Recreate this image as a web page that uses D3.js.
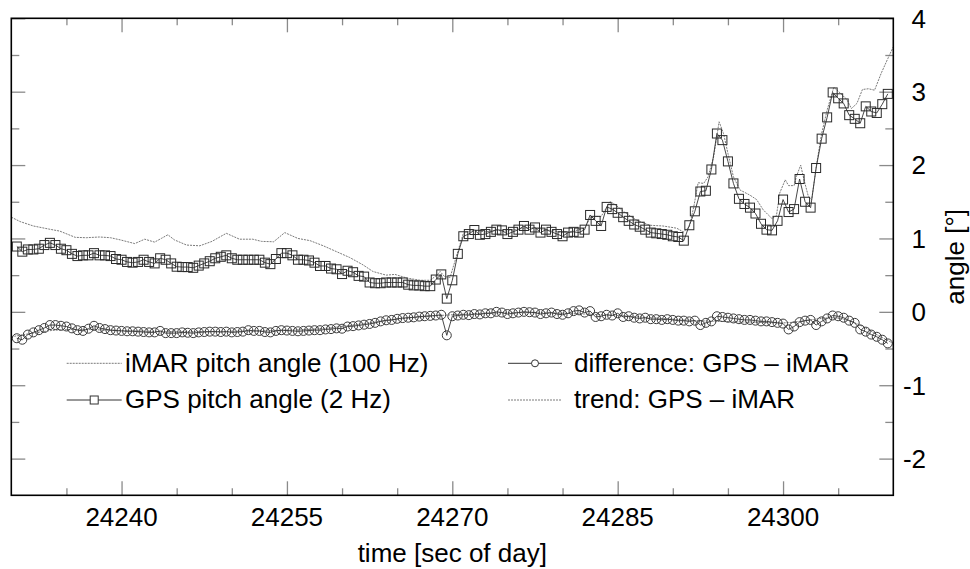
<!DOCTYPE html>
<html><head><meta charset="utf-8">
<script src="https://cdn.jsdelivr.net/npm/d3@7"></script>
<style>
body{margin:0;background:#fff}
svg{display:block}
text{font-family:"Liberation Sans",Arial,sans-serif;fill:#000}
</style>
</head><body>
<svg id="chart" width="970" height="569"></svg>
<script>
// ---------------- data ----------------
const gpsStart = 24230.5, gpsStep = 0.5;
const gpsPitch = [
 0.89,0.82,0.85,0.85,0.86,0.91,0.94,0.91,0.86,0.84,
 0.79,0.76,0.77,0.77,0.80,0.77,0.77,0.76,0.72,0.71,
 0.68,0.67,0.68,0.71,0.68,0.66,0.73,0.71,0.66,0.615,
 0.61,0.61,0.60,0.63,0.66,0.69,0.73,0.75,0.77,0.73,
 0.71,0.71,0.71,0.71,0.71,0.67,0.65,0.72,0.80,0.80,
 0.77,0.71,0.71,0.70,0.67,0.625,0.625,0.59,0.58,0.515,
 0.56,0.54,0.49,0.48,0.40,0.39,0.39,0.40,0.40,0.40,
 0.40,0.37,0.36,0.36,0.35,0.35,0.44,0.51,0.18,0.43,
 0.79,1.03,1.06,1.115,1.05,1.06,1.09,1.12,1.11,1.06,
 1.09,1.12,1.17,1.12,1.15,1.08,1.12,1.09,1.06,1.03,
 1.08,1.09,1.08,1.12,1.32,1.24,1.17,1.43,1.40,1.35,
 1.29,1.24,1.19,1.16,1.12,1.08,1.07,1.06,1.05,1.03,
 1.02,0.97,1.18,1.37,1.64,1.65,1.94,2.43,2.34,2.05,
 1.75,1.54,1.47,1.42,1.34,1.20,1.12,1.11,1.24,1.53,
 1.36,1.40,1.81,1.50,1.42,1.96,2.36,2.65,2.99,2.91,
 2.84,2.68,2.63,2.57,2.80,2.73,2.71,2.83,2.97
];
const diffStart = 24230.5, diffStep = 0.5;
const diffValues = [
 -0.36,-0.38,-0.31,-0.28,-0.25,-0.22,-0.18,-0.18,-0.19,-0.20,
 -0.225,-0.25,-0.26,-0.23,-0.19,-0.22,-0.235,-0.25,-0.255,-0.26,
 -0.265,-0.265,-0.27,-0.275,-0.28,-0.28,-0.26,-0.29,-0.29,-0.29,
 -0.28,-0.285,-0.29,-0.28,-0.275,-0.27,-0.27,-0.275,-0.27,-0.28,
 -0.275,-0.27,-0.25,-0.26,-0.26,-0.275,-0.28,-0.26,-0.25,-0.255,
 -0.26,-0.265,-0.26,-0.255,-0.25,-0.25,-0.24,-0.235,-0.225,-0.23,
 -0.20,-0.195,-0.185,-0.175,-0.165,-0.15,-0.13,-0.115,-0.11,-0.095,
 -0.085,-0.08,-0.075,-0.065,-0.06,-0.055,-0.05,-0.04,-0.32,-0.06,
 -0.05,-0.04,-0.045,-0.03,-0.035,-0.02,-0.02,0.0,-0.01,-0.03,
 -0.02,-0.01,0.0,-0.005,-0.01,-0.03,-0.02,-0.01,-0.03,-0.04,
 -0.02,0.01,0.02,-0.01,0.01,-0.07,-0.06,-0.04,-0.05,-0.02,
 -0.07,-0.06,-0.08,-0.09,-0.08,-0.10,-0.10,-0.11,-0.10,-0.11,
 -0.12,-0.12,-0.13,-0.12,-0.18,-0.15,-0.13,-0.06,-0.07,-0.08,
 -0.09,-0.10,-0.11,-0.11,-0.12,-0.13,-0.13,-0.14,-0.15,-0.16,
 -0.24,-0.20,-0.14,-0.12,-0.11,-0.18,-0.13,-0.09,-0.05,-0.06,
 -0.08,-0.12,-0.15,-0.24,-0.27,-0.31,-0.34,-0.38,-0.43
];
const imarTime = [
 24230.0,24230.8,24232.0,24233.5,24234.4,24235.8,24236.8,24238.0,24239.0,24239.9,
 24241.2,24242.1,24243.0,24243.6,24244.2,24244.8,24245.9,24247.1,24248.2,24249.5,
 24250.7,24251.9,24252.7,24253.8,24254.8,24256.0,24257.1,24258.3,24259.5,24260.7,
 24261.9,24262.8,24264.0,24264.8,24265.9,24267.1,24268.0,24268.6,24268.9,24269.3,
 24269.8,24270.5,24271.0,24271.9,24273.0,24274.0,24275.0,24276.0,24277.0,24278.0,
 24279.0,24280.0,24281.0,24282.0,24282.5,24283.0,24283.5,24284.3,24284.7,24285.5,
 24286.7,24287.9,24289.1,24290.35,24290.95,24291.5,24291.9,24292.3,24292.8,24293.2,
 24293.7,24294.2,24294.6,24295.0,24295.5,24296.1,24297.0,24297.6,24298.2,24299.0,
 24299.4,24299.7,24300.2,24300.5,24301.0,24301.2,24301.6,24301.9,24302.3,24302.6,
 24303.05,24303.5,24304.0,24304.6,24305.2,24305.8,24306.2,24306.7,24307.2,24307.75,
 24308.3,24308.9,24309.5,24310.0
];
const imarPitch = [
 1.29,1.23,1.17,1.125,1.10,1.015,1.01,1.02,1.01,0.98,
 0.93,0.99,0.95,1.00,1.05,0.98,0.91,0.90,0.96,1.07,
 0.99,0.99,0.96,0.955,1.08,1.00,0.97,0.90,0.82,0.74,
 0.64,0.55,0.50,0.51,0.46,0.43,0.43,0.50,0.55,0.48,
 0.47,0.82,1.07,1.115,1.09,1.11,1.10,1.13,1.15,1.13,
 1.11,1.08,1.10,1.14,1.28,1.30,1.30,1.50,1.47,1.37,
 1.25,1.18,1.17,1.14,1.09,1.16,1.43,1.76,1.75,1.84,
 2.11,2.59,2.43,2.16,1.84,1.66,1.59,1.53,1.39,1.27,
 1.31,1.62,1.80,1.72,1.72,1.84,2.00,1.80,1.57,1.53,
 2.02,2.43,2.75,3.06,2.98,2.89,2.77,2.84,3.03,3.04,
 3.02,3.25,3.45,3.61
];
const trendTime = [24230,24232,24234,24236,24240,24245,24250,24255,24258,24261,24264,24267,24270,24273,24276,24279,24282,24285,24288,24291,24294,24297,24300,24302,24303.5,24304.5,24305.5,24306.5,24307.5,24308.5,24309.5,24310];
const trendValues = [-0.34,-0.29,-0.25,-0.24,-0.255,-0.27,-0.265,-0.25,-0.23,-0.18,-0.12,-0.07,-0.04,-0.02,-0.01,-0.015,-0.03,-0.05,-0.08,-0.11,-0.13,-0.14,-0.15,-0.12,-0.09,-0.08,-0.10,-0.15,-0.22,-0.31,-0.39,-0.43];

const xMajorTicks = [24240,24255,24270,24285,24300];
const xMinorTicks = [24235,24245,24250,24260,24265,24275,24280,24290,24295,24305];
const yMajorTicks = [-2,-1,0,1,2,3,4];
const yMinorTicks = [-1.5,-0.5,0.5,1.5,2.5,3.5];
const xTitle = "time [sec of day]";
const yTitle = "angle [°]";
const legendLabels = ["iMAR pitch angle (100 Hz)","GPS pitch angle (2 Hz)","difference: GPS \u2013 iMAR","trend: GPS \u2013 iMAR"];

// ---------------- layout ----------------
const L = 11.3, R = 893.3, T = 18.3, B = 495.3;
const FS = 26;
const svg = d3.select("#chart");
const x = d3.scaleLinear().domain([24230,24310]).range([L,R]);
const y = d3.scaleLinear().domain([-2.5,4]).range([B,T]);

const gps = gpsPitch.map((v,i)=>({t:gpsStart+i*gpsStep, v}));
const diff = diffValues.map((v,i)=>({t:diffStart+i*diffStep, v}));
const imar = imarTime.map((t,i)=>({t, v:imarPitch[i]}));
const trend = trendTime.map((t,i)=>({t, v:trendValues[i]}));

svg.append("defs").append("clipPath").attr("id","clip")
  .append("rect").attr("x",L).attr("y",T).attr("width",R-L).attr("height",B-T);

// ticks via d3 axes
const tickColor = "#8a8a8a";
function styleAxis(g){ g.select(".domain").remove(); g.selectAll("line").attr("stroke",tickColor).attr("stroke-width",1.3); g.selectAll("text").remove(); }
svg.append("g").attr("transform",`translate(0,${B})`).call(d3.axisBottom(x).tickValues(xMajorTicks).tickSize(-14)).call(styleAxis);
svg.append("g").attr("transform",`translate(0,${B})`).call(d3.axisBottom(x).tickValues(xMinorTicks).tickSize(-7)).call(styleAxis);
svg.append("g").attr("transform",`translate(0,${T})`).call(d3.axisTop(x).tickValues(xMajorTicks).tickSize(-14)).call(styleAxis);
svg.append("g").attr("transform",`translate(0,${T})`).call(d3.axisTop(x).tickValues(xMinorTicks).tickSize(-7)).call(styleAxis);
svg.append("g").attr("transform",`translate(${L},0)`).call(d3.axisLeft(y).tickValues(yMajorTicks).tickSize(-14)).call(styleAxis);
svg.append("g").attr("transform",`translate(${L},0)`).call(d3.axisLeft(y).tickValues(yMinorTicks).tickSize(-8)).call(styleAxis);
svg.append("g").attr("transform",`translate(${R},0)`).call(d3.axisRight(y).tickValues(yMajorTicks).tickSize(-14)).call(styleAxis);
svg.append("g").attr("transform",`translate(${R},0)`).call(d3.axisRight(y).tickValues(yMinorTicks).tickSize(-8)).call(styleAxis);

// labels
svg.selectAll(".xl").data(xMajorTicks).join("text").attr("class","xl")
  .attr("x",d=>x(d)).attr("y",526).attr("text-anchor","middle").attr("font-size",FS).text(d=>d);
svg.selectAll(".yl").data(yMajorTicks).join("text").attr("class","yl")
  .attr("x",926).attr("y",d=>y(d)+9.3).attr("text-anchor","end").attr("font-size",FS).text(d=>d);
svg.append("text").attr("x",(L+R)/2).attr("y",562).attr("text-anchor","middle").attr("font-size",FS).text(xTitle);
svg.append("text").attr("transform",`translate(964,${(T+B)/2}) rotate(-90)`).attr("text-anchor","middle").attr("font-size",FS).text(yTitle);

// data
const plot = svg.append("g").attr("clip-path","url(#clip)");
const line = d3.line().x(d=>x(d.t)).y(d=>y(d.v));
const dotted = {stroke:"#7a7a7a", width:1, dash:"2,1"};

plot.append("path").datum(imar).attr("d",line).attr("fill","none")
  .attr("stroke",dotted.stroke).attr("stroke-width",dotted.width).attr("stroke-dasharray",dotted.dash);
plot.append("path").datum(trend).attr("d",d3.line().x(d=>x(d.t)).y(d=>y(d.v)).curve(d3.curveMonotoneX)).attr("fill","none")
  .attr("stroke",dotted.stroke).attr("stroke-width",dotted.width).attr("stroke-dasharray",dotted.dash);

plot.append("path").datum(gps).attr("d",line).attr("fill","none").attr("stroke","#333").attr("stroke-width",0.9);
const SQ = 9;
plot.selectAll(".sq").data(gps).join("rect").attr("class","sq")
  .attr("x",d=>x(d.t)-SQ/2).attr("y",d=>y(d.v)-SQ/2).attr("width",SQ).attr("height",SQ)
  .attr("fill","none").attr("stroke","#2a2a2a").attr("stroke-width",1);

plot.append("path").datum(diff).attr("d",line).attr("fill","none").attr("stroke","#333").attr("stroke-width",0.9);
plot.selectAll(".ci").data(diff).join("circle").attr("class","ci")
  .attr("cx",d=>x(d.t)).attr("cy",d=>y(d.v)).attr("r",4.5)
  .attr("fill","none").attr("stroke","#3a3a3a").attr("stroke-width",1);

// frame
svg.append("rect").attr("x",L).attr("y",T).attr("width",R-L).attr("height",B-T)
  .attr("fill","none").attr("stroke","#000").attr("stroke-width",1.6);

// legend
const leg = svg.append("g");
const rows = [
  {x0:66.7, x1:121.7, y:363.3, tx:125, label:legendLabels[0], kind:"dotted"},
  {x0:66.7, x1:121.7, y:400, tx:125, label:legendLabels[1], kind:"square"},
  {x0:508, x1:562, y:363.3, tx:574, label:legendLabels[2], kind:"circle"},
  {x0:508, x1:562, y:400, tx:574, label:legendLabels[3], kind:"dotted"}
];
rows.forEach(r=>{
  const ln = leg.append("line").attr("x1",r.x0).attr("x2",r.x1).attr("y1",r.y).attr("y2",r.y);
  if(r.kind==="dotted"){ ln.attr("stroke",dotted.stroke).attr("stroke-width",1).attr("stroke-dasharray",dotted.dash); }
  else { ln.attr("stroke","#333").attr("stroke-width",1); }
  const cx=(r.x0+r.x1)/2;
  if(r.kind==="square") leg.append("rect").attr("x",cx-4).attr("y",r.y-4).attr("width",8).attr("height",8).attr("fill","#fff").attr("stroke","#333");
  if(r.kind==="circle") leg.append("circle").attr("cx",cx).attr("cy",r.y).attr("r",3.5).attr("fill","#fff").attr("stroke","#333");
  leg.append("text").attr("x",r.tx).attr("y",r.y+8.3).attr("font-size",FS).text(r.label);
});
</script>
</body></html>
